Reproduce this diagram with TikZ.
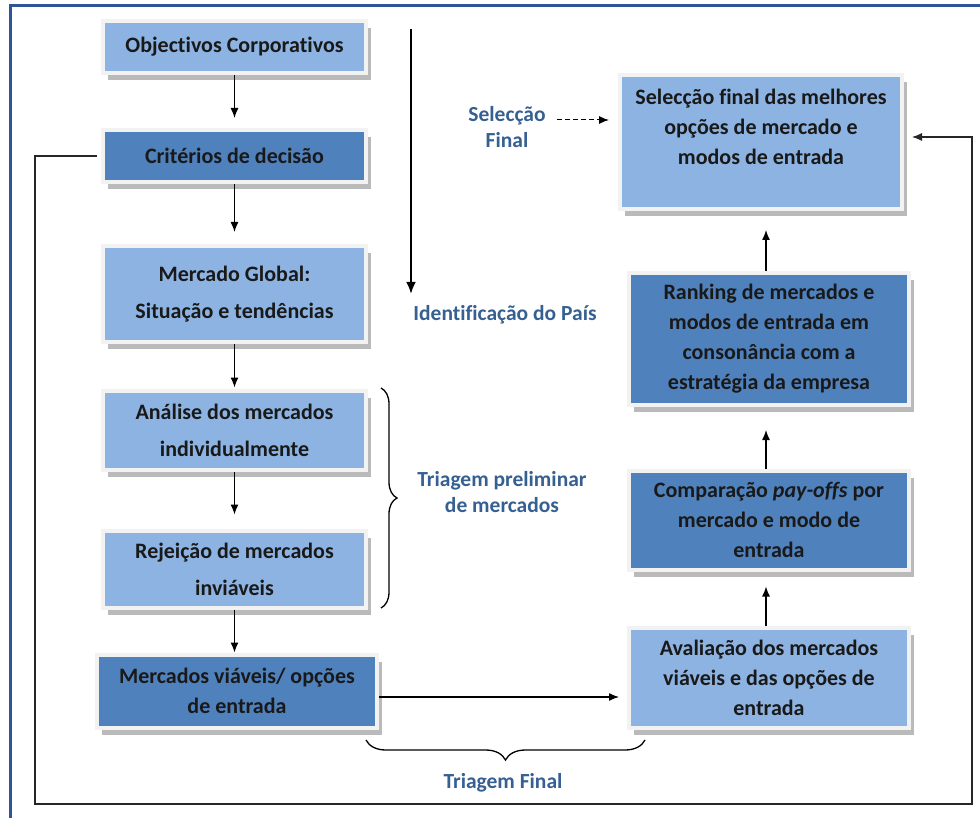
\documentclass[tikz,border=0pt]{standalone}
\usepackage{fontspec}
\setmainfont{Carlito}[Ligatures={NoCommon}]
\usepackage{tikz}
\usetikzlibrary{arrows.meta, shadows, decorations.pathreplacing}
\definecolor{boxlight}{RGB}{141,179,226}
\definecolor{boxdark}{RGB}{79,129,189}
\definecolor{tagblue}{RGB}{54,96,146}
\definecolor{frameblue}{RGB}{47,85,151}

\begin{document}
\begin{tikzpicture}[x=1pt, y=-1pt,
        box/.style={rectangle, draw=black!5, line width=4pt, align=center, text=black!90, inner sep=0pt,
            font=\bfseries\fontsize{22}{30}\selectfont,
            drop shadow={shadow xshift=5pt, shadow yshift=-7pt, fill=black!45, opacity=.6}},
        light/.style={box, fill=boxlight},
        dark/.style={box, fill=boxdark},
        wide/.style={font=\bfseries\fontsize{22}{37}\selectfont},
        leftcol/.style={minimum width=263pt},
        rightcol/.style={minimum width=280pt},
        tag/.style={text=tagblue, align=center, font=\bfseries\fontsize{21.5}{26}\selectfont},
        arr/.style={-{Latex[length=10pt, width=8pt]}, line width=1.3pt}]
        \fill[white, use as bounding box] (0,0) rectangle (980,818);
        \begin{scope}
            \clip (0,0) rectangle (980,818);
            \draw[frameblue, line width=3pt] (10,6) rectangle (1000,840);
        \end{scope}

        \node[light, leftcol, minimum height=52pt] (obj) at (234.5,47) {Objectivos Corporativos};
        \node[dark, leftcol, minimum height=52pt] (crit) at (234.5,156) {Critérios de decisão};
        \node[light, leftcol, wide, minimum height=96pt] (merc) at (234.5,294) {Mercado Global:\\Situação e tendências};
        \node[light, leftcol, wide, minimum height=79pt] (anal) at (234.5,430) {Análise dos mercados\\individualmente};
        \node[light, leftcol, wide, minimum height=77pt] (rej) at (234.5,569) {Rejeição de mercados\\inviáveis};
        \node[dark, minimum width=280pt, minimum height=73pt] (viav) at (237,691) {Mercados viáveis/ opções\\de entrada};

        \node[light, minimum width=282pt, minimum height=134pt] (selec) at (761,142) {Selecção final das melhores\\opções de mercado e\\modos de entrada\\~};
        \node[dark, rightcol, minimum height=132pt] (rank) at (769,339) {Ranking de mercados e\\modos de entrada em\\consonância com a\\estratégia da empresa};
        \node[dark, rightcol, minimum height=99pt] (comp) at (769,520) {Comparação \textit{pay-offs} por\\mercado e modo de\\entrada};
        \node[light, rightcol, minimum height=100pt] (aval) at (769,678) {Avaliação dos mercados\\viáveis e das opções de\\entrada};

        \node[tag] (ident) at (505,315) {Identificação do País};
        \node[tag] (selfin) at (507,127) {Selecção\\Final};
        \node[tag] (triaprel) at (502,492) {Triagem preliminar\\de mercados};
        \node[tag] (triafin) at (503,783) {Triagem Final};

        \foreach \a/\b/\s in {obj/crit/10, crit/merc/12, merc/anal/1, anal/rej/14, rej/viav/0}
            \draw[arr, shorten >=\s pt] (\a.south) -- (\a.south |- \b.north);
        \foreach \a/\b/\s in {aval/comp/15, comp/rank/23, rank/selec/19}
            \draw[arr, shorten >=\s pt] ([xshift=-3pt]\a.north) -- ([xshift=-3pt]\a.north |- \b.south);
        \draw[arr, shorten >=8pt] ([yshift=-6pt]viav.east) -- ([yshift=-6pt]viav.east -| aval.west);
        \draw[arr, line width=1pt, dash pattern=on 5pt off 3pt, shorten <=8pt, shorten >=9pt]
            ([yshift=7pt]selfin.east) -- ([yshift=7pt]selfin.east -| selec.west);

        \coordinate (idtop) at (411,29);
        \coordinate (idbot) at (411,294);
        \draw[-{Latex[length=12pt, width=10pt]}, line width=2.5pt] (idtop) -- (idbot);

        \coordinate (loopbl) at (35,804);
        \coordinate (loopbr) at (972,804);
        \draw[arr, black!85, line width=1.1pt, shorten <=4pt, shorten >=8pt]
            (crit.west) -| (loopbl) -- (loopbr) |- ([yshift=5pt]selec.east);

        \coordinate (brtop) at (381,388);
        \coordinate (brbot) at (381,608);
        \draw[line width=1.3pt, decorate, decoration={brace, amplitude=16pt}] (brtop) -- (brbot);
        \coordinate (bfright) at (645,740);
        \coordinate (bfleft) at (366,740);
        \draw[line width=1.3pt, decorate, decoration={brace, amplitude=20pt}] (bfright) -- (bfleft);
    \end{tikzpicture}
\end{document}
